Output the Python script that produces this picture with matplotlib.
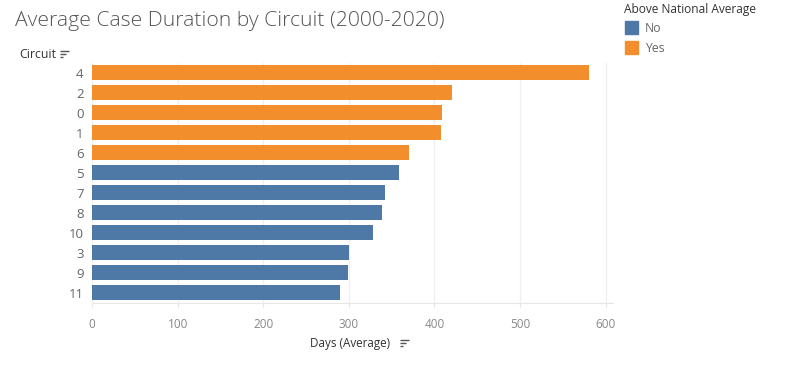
import matplotlib
matplotlib.use('Agg')
import matplotlib.pyplot as plt
from matplotlib.patches import Rectangle
from matplotlib.lines import Line2D

# data
circuits = ['4', '2', '0', '1', '6', '5', '7', '8', '10', '3', '9', '11']
days_avg = [581, 420, 409, 408, 370, 359, 342, 339, 328, 300, 299, 290]
above_avg = ['Yes', 'Yes', 'Yes', 'Yes', 'Yes', 'No', 'No', 'No', 'No', 'No', 'No', 'No']
legend_cats = ['No', 'Yes']
colors = {'No': '#4e79a7', 'Yes': '#f28e2b'}
xticks = [0, 100, 200, 300, 400, 500, 600]

plt.rcParams['font.family'] = ['Open Sans', 'DejaVu Sans']

W, H = 795, 375
fig = plt.figure(figsize=(W / 100, H / 100), dpi=100)
ax = fig.add_axes([92 / W, 1 - 302.5 / H, (613 - 92) / W, 240 / H])

ypos = list(range(len(circuits)))
ax.barh(ypos, days_avg, height=0.75, color=[colors[a] for a in above_avg], zorder=2)
ax.set_ylim(len(circuits) - 0.5, -0.5)
ax.set_xlim(0, 608.5)
ax.set_yticks(ypos)
ax.set_yticklabels(circuits, fontsize=9.5, color='#666666')
ax.set_xticks(xticks)
ax.set_xticklabels([str(t) for t in xticks], fontsize=8.5, color='#888888')
ax.tick_params(axis='y', length=0, pad=6)
ax.tick_params(axis='x', length=3, color='#e6e6e6', pad=8)
ax.grid(axis='x', color='#efefef', linewidth=0.9, zorder=0)
for s in ['top', 'right', 'left']:
    ax.spines[s].set_visible(False)
ax.spines['bottom'].set_color('#e6e6e6')

def px(x, y):
    return x / W, 1 - y / H

# title and headers
fig.text(*px(15, 21), 'Average Case Duration by Circuit (2000-2020)', fontsize=15.2,
         color='#555555', fontweight='light', va='center', ha='left')
fig.text(*px(19, 54), 'Circuit', fontsize=8.8, color='#333333', va='center', ha='left')
fig.text(*px(350, 343.5), 'Days (Average)', fontsize=8.4, color='#333333', va='center', ha='center')

# sort icons
def sort_icon(x0, y0):
    for i, ln in enumerate([9, 6, 3]):
        x1, y1 = px(x0, y0 + i * 3.2)
        x2, _ = px(x0 + ln, y0)
        fig.add_artist(Line2D([x1, x2], [y1, y1], color='#555555', linewidth=1.0,
                              solid_capstyle='butt'))

sort_icon(60, 51)
sort_icon(400, 340)

# legend
fig.text(*px(624, 9), 'Above National Average', fontsize=8.6, color='#333333',
         va='center', ha='left')
for i, cat in enumerate(legend_cats):
    top = 21 + i * 20
    x0, y0 = px(625, top + 13)
    fig.add_artist(Rectangle((x0, y0), 13 / W, 13 / H, color=colors[cat],
                             transform=fig.transFigure))
    fig.text(*px(645, top + 7), cat, fontsize=8.8, color='#666666', va='center', ha='left')

fig.savefig('out.png', dpi=100, facecolor='white')
